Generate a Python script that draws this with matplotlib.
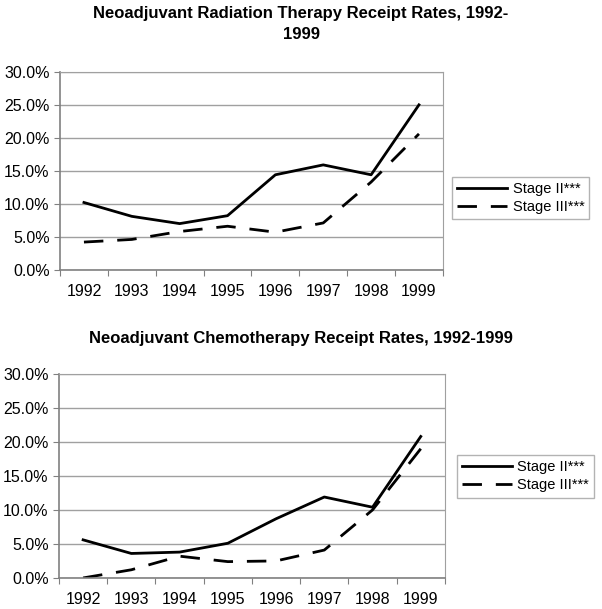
import matplotlib.pyplot as plt
from matplotlib.ticker import FuncFormatter

years = ["1992", "1993", "1994", "1995", "1996", "1997", "1998", "1999"]

rad_stage2 = [10.2, 8.1, 7.0, 8.2, 14.4, 15.9, 14.4, 25.0]
rad_stage3 = [4.2, 4.6, 5.8, 6.6, 5.7, 7.1, 13.3, 20.6]

chemo_stage2 = [5.6, 3.6, 3.8, 5.1, 8.7, 11.9, 10.4, 20.8]
chemo_stage3 = [0.0, 1.2, 3.2, 2.4, 2.5, 4.1, 10.0, 19.0]

plt.rcParams['font.family'] = ['Liberation Sans', 'DejaVu Sans']

fig = plt.figure(figsize=(6.02, 6.09), dpi=100)


def panel(rect, s2, s3, legend_x, legend_y):
    ax = fig.add_axes(rect)
    x = list(range(len(years)))
    ax.plot(x, s2, color="black", lw=2.0, label="Stage II***")
    ax.plot(x, s3, color="black", lw=2.0, dashes=(7, 5), label="Stage III***")
    ax.set_xlim(-0.5, len(years) - 0.5)
    ax.set_ylim(0, 30)
    ax.set_yticks([0, 5, 10, 15, 20, 25, 30])
    ax.yaxis.set_major_formatter(FuncFormatter(lambda v, p: f"{v:.1f}%"))
    ax.set_xticks([i - 0.5 for i in range(len(years) + 1)])
    ax.set_xticklabels([])
    ax.set_xticks(x, minor=True)
    ax.set_xticklabels(years, minor=True)
    ax.tick_params(axis="x", which="minor", length=0, labelsize=11.5, pad=10)
    ax.tick_params(axis="x", which="major", length=4, color="#808080")
    ax.tick_params(axis="y", length=4, color="#808080", labelsize=11.5)
    ax.grid(axis="y", color="#a0a0a0", lw=1.0)
    ax.set_axisbelow(True)
    for s in ["top", "right"]:
        ax.spines[s].set_color("#a0a0a0")
    for s in ["left", "bottom"]:
        ax.spines[s].set_color("#808080")
        ax.spines[s].set_linewidth(1.2)
    leg = ax.legend(loc="center left", bbox_to_anchor=(legend_x, legend_y),
                    bbox_transform=fig.transFigure,
                    frameon=True, fancybox=False, fontsize=10.5,
                    handlelength=3.4, borderpad=0.35, labelspacing=0.3,
                    handletextpad=0.4, borderaxespad=0)
    leg.get_frame().set_edgecolor("#a0a0a0")
    leg.get_frame().set_linewidth(1.0)
    return ax


ax1 = panel([0.0997, 0.557, 0.636, 0.325], rad_stage2, rad_stage3, 0.751, 0.675)
ax2 = panel([0.098, 0.051, 0.641, 0.335], chemo_stage2, chemo_stage3, 0.759, 0.218)

fig.text(0.5, 0.99, "Neoadjuvant Radiation Therapy Receipt Rates, 1992-\n1999",
         ha="center", va="top", fontsize=12, fontweight="bold", linespacing=1.5)
fig.text(0.5, 0.444, "Neoadjuvant Chemotherapy Receipt Rates, 1992-1999",
         ha="center", va="center", fontsize=12, fontweight="bold")

fig.savefig("out.png", dpi=100)
